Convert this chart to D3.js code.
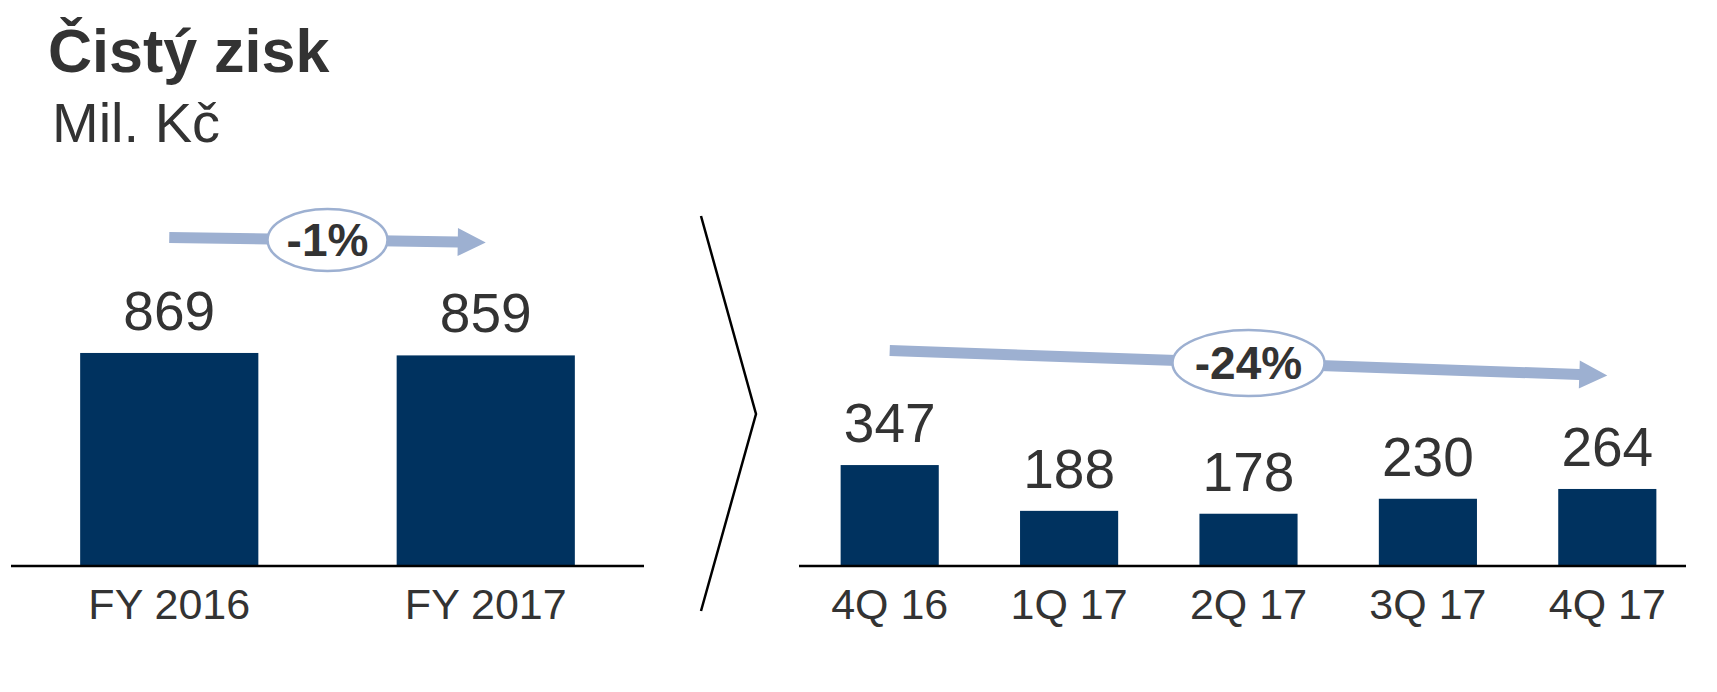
<!DOCTYPE html>
<html>
<head>
<meta charset="utf-8">
<script src="https://cdn.jsdelivr.net/npm/d3@7"></script>
<style>
  html, body { margin: 0; padding: 0; background: #ffffff; }
  svg { display: block; font-family: "Liberation Sans", Arial, Helvetica, sans-serif; }
</style>
</head>
<body>
<svg id="chart" width="1717" height="692"></svg>
<script>
// ---- data ----
const titleText = "Čistý zisk";
const unitText = "Mil. Kč";
const fyCategories = ["FY 2016", "FY 2017"];
const fyValues = [869, 859];
const fyChange = "-1%";
const qCategories = ["4Q 16", "1Q 17", "2Q 17", "3Q 17", "4Q 17"];
const qValues = [347, 188, 178, 230, 264];
const qChange = "-24%";

// ---- styles ----
const BAR = "#00325f";
const TEXT = "#333333";
const ARROW = "#9db0d1";

const svg = d3.select("#chart");

svg.append("text").attr("x", 48).attr("y", 72)
  .attr("font-size", 61).attr("font-weight", "bold").attr("fill", TEXT)
  .text(titleText);
svg.append("text").attr("x", 52).attr("y", 142)
  .attr("font-size", 56).attr("fill", TEXT)
  .text(unitText);

function arrow(g, x1, y1, x2, y2, shaft, headLen, headHalf) {
  const ang = Math.atan2(y2 - y1, x2 - x1);
  const L = Math.hypot(x2 - x1, y2 - y1);
  const s = shaft / 2;
  const pts = [[0, -s], [L - headLen, -s], [L - headLen, -headHalf], [L, 0],
               [L - headLen, headHalf], [L - headLen, s], [0, s]];
  g.append("polygon")
    .attr("points", pts.map(p => p.join(",")).join(" "))
    .attr("fill", ARROW)
    .attr("transform", `translate(${x1},${y1}) rotate(${ang * 180 / Math.PI})`);
}

function panel(cats, vals, xRange, yScale, axisX, arrowY, changeText, rx, ry, padInner) {
  const x = d3.scaleBand().domain(cats).range(xRange)
    .paddingInner(padInner).paddingOuter(padInner / 2);
  const g = svg.append("g");
  g.selectAll("rect.bar").data(vals).join("rect")
    .attr("class", "bar")
    .attr("x", (d, i) => x(cats[i]))
    .attr("width", x.bandwidth())
    .attr("y", d => yScale(d))
    .attr("height", d => yScale(0) - yScale(d))
    .attr("fill", BAR);
  g.append("line").attr("x1", axisX[0]).attr("x2", axisX[1])
    .attr("y1", yScale(0) + 1).attr("y2", yScale(0) + 1)
    .attr("stroke", "#000").attr("stroke-width", 2.5);
  g.selectAll("text.val").data(vals).join("text")
    .attr("class", "val")
    .attr("x", (d, i) => x(cats[i]) + x.bandwidth() / 2)
    .attr("y", d => yScale(d) - 23)
    .attr("text-anchor", "middle").attr("font-size", 55).attr("fill", TEXT)
    .text(d => d);
  g.selectAll("text.cat").data(cats).join("text")
    .attr("class", "cat")
    .attr("x", d => x(d) + x.bandwidth() / 2)
    .attr("y", yScale(0) + 54)
    .attr("text-anchor", "middle").attr("font-size", 43).attr("fill", TEXT)
    .text(d => d);
  // trend arrow
  const xa = x(cats[0]) + x.bandwidth() / 2;
  const xb = x(cats[cats.length - 1]) + x.bandwidth() / 2;
  arrow(g, xa, arrowY[0], xb, arrowY[1], 11, 28, 14);
  const cx = (xa + xb) / 2, cy = (arrowY[0] + arrowY[1]) / 2;
  g.append("ellipse").attr("cx", cx).attr("cy", cy).attr("rx", rx).attr("ry", ry)
    .attr("fill", "#fff").attr("stroke", ARROW).attr("stroke-width", 2.5);
  g.append("text").attr("x", cx).attr("y", cy + 16)
    .attr("text-anchor", "middle").attr("font-size", 46).attr("font-weight", "bold")
    .attr("fill", TEXT).text(changeText);
}

const yLeft = d3.scaleLinear().domain([0, 1000]).range([565, 321]);
panel(fyCategories, fyValues, [11, 644], yLeft, [11, 644], [237.5, 242.5], fyChange, 60, 31, 0.437);

const yRight = d3.scaleLinear().domain([0, 400]).range([565, 449.8]);
panel(qCategories, qValues, [800, 1697], yRight, [799, 1686], [350.5, 375.5], qChange, 76, 33, 0.453);

// chevron separator
svg.append("polyline")
  .attr("points", [[701, 216], [756, 414], [701, 611]].map(p => p.join(",")).join(" "))
  .attr("fill", "none").attr("stroke", "#000").attr("stroke-width", 2.5);
</script>
</body>
</html>
